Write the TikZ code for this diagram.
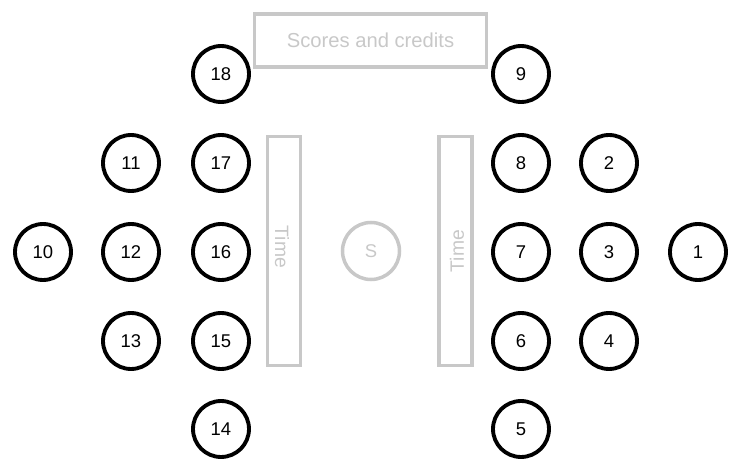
\documentclass[tikz,border=0pt]{standalone}
\usepackage{fontspec}
\setmainfont{Liberation Sans}
\definecolor{pale}{RGB}{200,200,200}
\tikzset{
  seat/.style={draw,circle,line width=2.2pt,minimum size=1.12cm,inner sep=0pt,font=\fontsize{10.5}{12}\selectfont},
  board/.style={draw=pale,line width=2pt,inner sep=0pt,text=pale},
}
\begin{document}
\begin{tikzpicture}[x=0.02cm,y=-0.02cm]
    \useasboundingbox (0,0) rectangle (735,466);
    % Scores box
    \node[board,minimum width=4.65cm,minimum height=1.06cm,font=\fontsize{11.5}{13}\selectfont] (scores) at (370.5,40.5) {Scores and credits};
    % Time boards
    \node[board,minimum width=0.66cm,minimum height=4.58cm] (timeL) at (284,251) {};
    \node[board,minimum width=0.66cm,minimum height=4.58cm] (timeR) at (455.5,251) {};
    \node[text=pale,rotate=-90,font=\fontsize{11}{13}\selectfont] (timeLtxt) at (282,247) {Time};
    \node[text=pale,rotate=90,font=\fontsize{11}{13}\selectfont] (timeRtxt) at (457,251) {Time};
    % Centre
    \node[draw=pale,circle,line width=2pt,minimum size=1.14cm,inner sep=0pt,text=pale,font=\fontsize{10.5}{12}\selectfont] (s) at (371,251) {S};
    % Right side
    \node[seat] (p1) at (698,252) {1};
    \node[seat] (p2) at (609,163) {2};
    \node[seat] (p3) at (609,252) {3};
    \node[seat] (p4) at (609,341) {4};
    \node[seat] (p5) at (521,429) {5};
    \node[seat] (p6) at (521,341) {6};
    \node[seat] (p7) at (521,252) {7};
    \node[seat] (p8) at (521,163) {8};
    \node[seat] (p9) at (521,74) {9};
    % Left side
    \node[seat] (p10) at (43,252) {10};
    \node[seat] (p11) at (131,163) {11};
    \node[seat] (p12) at (131,252) {12};
    \node[seat] (p13) at (131,341) {13};
    \node[seat] (p14) at (221,429) {14};
    \node[seat] (p15) at (221,341) {15};
    \node[seat] (p16) at (221,252) {16};
    \node[seat] (p17) at (221,163) {17};
    \node[seat] (p18) at (221,74) {18};
\end{tikzpicture}
\end{document}
